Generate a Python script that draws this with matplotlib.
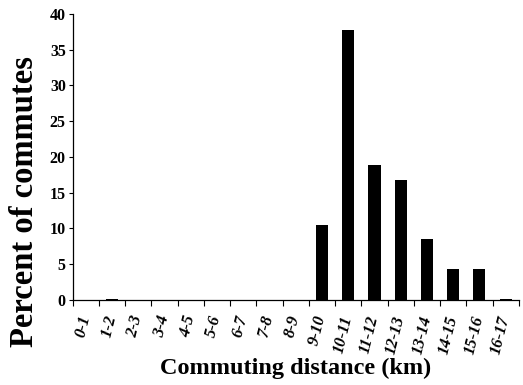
import matplotlib
matplotlib.use("Agg")
import matplotlib.pyplot as plt
import matplotlib.transforms as mtransforms
import numpy as np

categories = ["0-1", "1-2", "2-3", "3-4", "4-5", "5-6", "6-7", "7-8", "8-9",
              "9-10", "10-11", "11-12", "12-13", "13-14", "14-15", "15-16", "16-17"]
percent = [0.0, 0.15, 0.05, 0.0, 0.0, 0.0, 0.0, 0.0, 0.0,
           10.5, 37.8, 18.9, 16.8, 8.5, 4.3, 4.3, 0.15]
yticks = [0, 5, 10, 15, 20, 25, 30, 35, 40]

plt.rcParams['font.family'] = ['Liberation Serif', 'DejaVu Serif']

fig = plt.figure(figsize=(5.23, 3.85), dpi=100)
ax = fig.add_axes([0.139, 0.221, 0.853, 0.743])

x = np.arange(len(categories))
ax.bar(x + 0.5, percent, width=0.46, color='black', align='center')

ax.set_xlim(0, len(categories))
ax.set_ylim(0, 40)
ax.set_yticks(yticks)
ax.set_yticklabels([str(v) for v in yticks], fontsize=11.5, fontweight='bold')

ax.set_xticks(np.arange(len(categories) + 1))
ax.set_xticklabels([])
ax.set_xticks(x + 0.5, minor=True)
ax.set_xticklabels(categories, minor=True, rotation=76, ha='right',
                   rotation_mode='anchor', fontsize=12, fontweight='bold',
                   fontstyle='italic')
ax.tick_params(axis='x', which='minor', length=0, pad=10)
ax.tick_params(axis='x', which='major', direction='out', length=4, width=0.8)
ax.tick_params(axis='y', direction='out', length=3, width=0.8, pad=2)

offset = mtransforms.ScaledTranslation(-8 / 100, 0, fig.dpi_scale_trans)
for lab in ax.xaxis.get_minorticklabels():
    lab.set_transform(lab.get_transform() + offset)

for s in ['top', 'right']:
    ax.spines[s].set_visible(False)
for s in ['left', 'bottom']:
    ax.spines[s].set_linewidth(0.9)

ax.set_xlabel("Commuting distance (km)", fontsize=17.5, fontweight='bold', labelpad=2)
fig.text(25 / 523, 1 - 202 / 385, "Percent of commutes", rotation=90,
         ha='center', va='center', fontsize=23.5, fontweight='bold')

fig.savefig("out.png", dpi=100)
